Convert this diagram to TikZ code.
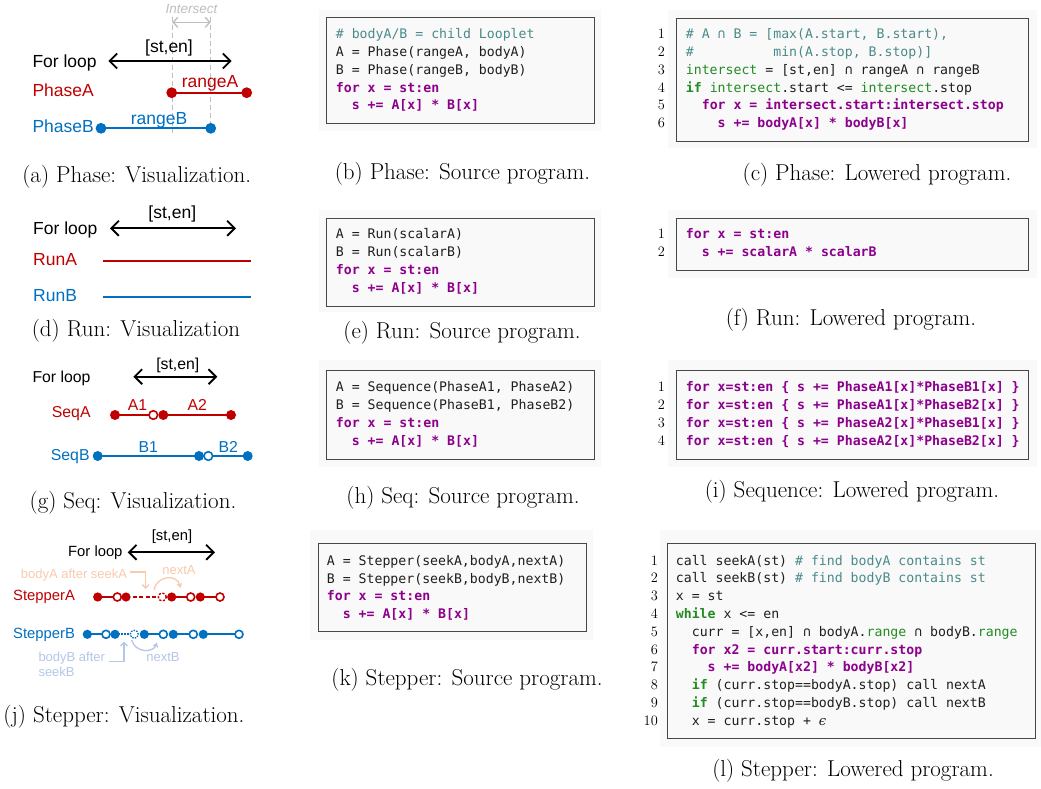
\documentclass[tikz,border=0pt]{standalone}
\usepackage{fontspec}
\usepackage{tikz}
\usetikzlibrary{arrows.meta}
\newfontfamily\sansf{Liberation Sans}
\newfontfamily\monof{DejaVu Sans Mono}
\newfontfamily\epsfont{DejaVu Serif}
\definecolor{vred}{RGB}{192,0,0}
\definecolor{vblue}{RGB}{0,112,192}
\definecolor{peach}{RGB}{248,203,173}
\definecolor{paleblue}{RGB}{180,199,231}
\definecolor{isgray}{RGB}{191,191,191}
\definecolor{cmtcol}{RGB}{74,138,138}
\definecolor{kwgreen}{RGB}{34,139,34}
\definecolor{loopcol}{RGB}{140,0,140}
\definecolor{codefg}{RGB}{30,30,30}
\definecolor{codebg}{RGB}{249,249,249}
\definecolor{boxline}{RGB}{70,70,70}
\newcommand{\cmnt}[1]{\textcolor{cmtcol}{#1}}
\newcommand{\kwd}[1]{\textcolor{kwgreen}{\bfseries #1}}
\newcommand{\grn}[1]{\textcolor{kwgreen}{#1}}
\newcommand{\lp}[1]{\textcolor{loopcol}{\bfseries #1}}

\tikzset{
  lbl/.style={font=\sansf\fontsize{17.5}{20}\selectfont, inner sep=0pt},
  lblsm/.style={font=\sansf\fontsize{15.8}{18}\selectfont, inner sep=0pt},
  lblxs/.style={font=\sansf\fontsize{14.8}{17}\selectfont, inner sep=0pt},
  annot/.style={font=\sansf\fontsize{13}{15}\selectfont, inner sep=0pt},
  capt/.style={font=\fontsize{23}{26}\selectfont, anchor=base, inner sep=0pt},
  code/.style={font=\monof\fontsize{13.2}{16}\selectfont, anchor=base west, inner sep=0pt, text=codefg},
  lnum/.style={font=\fontsize{14.4}{16}\selectfont, anchor=base east, inner sep=0pt},
  codebox/.style={draw=boxline, line width=1pt, fill=codebg},
  panelbg/.style={fill=codebg},
  looparrow/.style={line width=1.9pt, {Straight Barb[length=7.5pt,width=15pt]}-{Straight Barb[length=7.5pt,width=15pt]}},
  seg/.style={line width=2.3pt},
  sseg/.style={line width=1.7pt},
  opendot/.style={fill=white, line width=1.6pt},
  annarrow/.style={line width=1.3pt}
}

\begin{document}
\begin{tikzpicture}[x=1pt,y=-1pt]
  \fill[white] (0,0) rectangle (1041,788);
  \useasboundingbox (0,0) rectangle (1041,788);

  % (a) Phase visualization
  \draw[isgray, line width=1.2pt, dash pattern=on 5pt off 3pt] (172.3,17) -- (172.3,133);
  \draw[isgray, line width=1.2pt, dash pattern=on 5pt off 3pt] (210.7,17) -- (210.7,133);
  \node[annot, font=\sansf\itshape\fontsize{13.5}{15}\selectfont, text=isgray, anchor=base] (isect) at (191.5,13.3) {Intersect};
  \coordinate (isL) at (172.3,22.3);
  \coordinate (isR) at (210.7,22.3);
  \draw[isgray, line width=1.4pt, {Straight Barb[length=4.5pt,width=10pt]}-{Straight Barb[length=4.5pt,width=10pt]}] (isL) -- (isR);
  \node[lbl, anchor=base] (stenA) at (169,52.5) {[st,en]};
  \node[lbl, anchor=base west] (forA) at (32.3,67) {For loop};
  \coordinate (loopAL) at (108.3,61);
  \coordinate (loopAR) at (231.7,61);
  \draw[looparrow] (loopAL) -- (loopAR);
  \node[lbl, anchor=base west, text=vred] (phA) at (32.3,96.3) {PhaseA};
  \node[lbl, anchor=base, text=vred] (rgA) at (210,87.5) {rangeA};
  \coordinate (rAs) at (171.7,92.7);
  \coordinate (rAe) at (246.7,92.7);
  \draw[vred, seg] (rAs) -- (rAe);
  \fill[vred] (rAs) circle (5.4pt);
  \fill[vred] (rAe) circle (5.4pt);
  \node[lbl, anchor=base west, text=vblue] (phB) at (32.3,132.3) {PhaseB};
  \node[lbl, anchor=base, text=vblue] (rgB) at (159,124) {rangeB};
  \coordinate (rBs) at (101,128.3);
  \coordinate (rBe) at (210.7,128.3);
  \draw[vblue, seg] (rBs) -- (rBe);
  \fill[vblue] (rBs) circle (5.4pt);
  \fill[vblue] (rBe) circle (5.4pt);
  \node[capt] (capa) at (136.7,182.7) {(a) Phase: Visualization.};

  % (d) Run visualization
  \node[lbl, anchor=base] (stenD) at (172.3,218.5) {[st,en]};
  \node[lbl, anchor=base west] (forD) at (33,234.3) {For loop};
  \coordinate (loopDL) at (110,228.3);
  \coordinate (loopDR) at (236,228.3);
  \draw[looparrow] (loopDL) -- (loopDR);
  \node[lbl, anchor=base west, text=vred] (runA) at (33,265) {RunA};
  \node[lbl, anchor=base west, text=vblue] (runB) at (33,301) {RunB};
  \coordinate (runAs) at (103.3,261);
  \coordinate (runAe) at (250.7,261);
  \coordinate (runBs) at (103.3,297.3);
  \coordinate (runBe) at (250.7,297.3);
  \draw[vred, line width=2.3pt] (runAs) -- (runAe);
  \draw[vblue, line width=2.3pt] (runBs) -- (runBe);
  \node[capt] (capd) at (136,336.7) {(d) Run: Visualization};

  % (g) Seq visualization
  \node[lblsm, anchor=base] (stenG) at (177.8,369) {[st,en]};
  \node[lblsm, anchor=base west] (forG) at (32.3,382.3) {For loop};
  \coordinate (loopGL) at (133.3,376.7);
  \coordinate (loopGR) at (217.3,376.7);
  \draw[looparrow] (loopGL) -- (loopGR);
  \node[lblsm, anchor=base west, text=vred] (seqA) at (51.7,417.7) {SeqA};
  \node[lblsm, anchor=base, text=vred] (a1) at (137.5,410) {A1};
  \node[lblsm, anchor=base, text=vred] (a2) at (197.3,410) {A2};
  \draw[vred, line width=2pt] (115,415) -- (153.3,415);
  \draw[vred, line width=2pt] (163.3,415) -- (231,415);
  \fill[vred] (115,415) circle (5pt);
  \draw[vred, opendot] (153.3,415) circle (4.3pt);
  \fill[vred] (163.3,415) circle (5pt);
  \fill[vred] (231,415) circle (5pt);
  \node[lblsm, anchor=base west, text=vblue] (seqB) at (50.7,460) {SeqB};
  \node[lblsm, anchor=base, text=vblue] (b1) at (148.3,452.7) {B1};
  \node[lblsm, anchor=base, text=vblue] (b2) at (228.3,452.7) {B2};
  \draw[vblue, line width=2pt] (97.7,456) -- (199,456);
  \draw[vblue, line width=2pt] (208.3,456) -- (247.7,456);
  \fill[vblue] (97.7,456) circle (5pt);
  \fill[vblue] (199,456) circle (5pt);
  \draw[vblue, opendot] (208.3,456) circle (4.3pt);
  \fill[vblue] (247.7,456) circle (5pt);
  \node[capt] (capg) at (133,508) {(g) Seq: Visualization.};

  % (j) Stepper visualization
  \node[lblxs, anchor=base] (stenJ) at (172,540) {[st,en]};
  \node[lblxs, anchor=base west] (forJ) at (68,556) {For loop};
  \coordinate (loopJL) at (127.7,552.3);
  \coordinate (loopJR) at (215,552.3);
  \draw[looparrow] (loopJL) -- (loopJR);
  \node[lblxs, anchor=base west, text=vred] (stA) at (13,600.7) {StepperA};
  \node[lblxs, anchor=base west, text=vblue] (stB) at (13,638.3) {StepperB};
  % stepper A pieces
  \draw[vred, sseg, dash pattern=on 4pt off 2.5pt] (126,597) -- (158,597);
  \foreach \s/\e in {97.7/117.3, 171.7/190.7, 200.3/220} {
    \draw[vred, sseg] (\s,597) -- (\e,597);
    \fill[vred] (\s,597) circle (4.6pt);
    \draw[vred, opendot] (\e,597) circle (4pt);
  }
  \fill[vred] (126,597) circle (4.6pt);
  \draw[vred, line width=1.4pt, fill=white, dash pattern=on 2.2pt off 1.6pt] (162.3,597) circle (4pt);
  % stepper B pieces
  \draw[vblue, sseg, dash pattern=on 1.5pt off 1.5pt] (115,634.3) -- (130,634.3);
  \foreach \s/\e in {87.3/106, 144.3/163.3, 173.3/193.3, 203.3/239} {
    \draw[vblue, sseg] (\s,634.3) -- (\e,634.3);
    \fill[vblue] (\s,634.3) circle (4.6pt);
    \draw[vblue, opendot] (\e,634.3) circle (4pt);
  }
  \fill[vblue] (115,634.3) circle (4.6pt);
  \draw[vblue, line width=1.3pt, fill=white, dash pattern=on 1.5pt off 1.2pt] (134.3,634.3) circle (4pt);
  % annotations
  \node[annot, anchor=base west, text=peach] (skA) at (20.7,578.3) {bodyA after seekA};
  \node[annot, anchor=base, text=peach] (nxA) at (179,574.3) {nextA};
  \coordinate (skAtip) at (145.7,589);
  \draw[peach, annarrow, -{Straight Barb[length=3.5pt,width=7pt]}] ([xshift=3pt,yshift=3pt]skA.east) -| (skAtip);
  \draw[peach, annarrow, -{Stealth[length=5pt,width=6pt]}] (154,590) .. controls (157,575) and (177,574) .. (180.5,588);
  \node[annot, anchor=base west, text=paleblue] (skB) at (38.3,661.7) {bodyB after};
  \node[annot, anchor=base west, text=paleblue] (skB2) at (38.3,676.7) {seekB};
  \node[annot, anchor=base, text=paleblue] (nxB) at (163,661) {nextB};
  \coordinate (skBtip) at (124,641.5);
  \draw[paleblue, annarrow, -{Straight Barb[length=3.5pt,width=7pt]}] ([xshift=4pt]skB.base east) -| (skBtip);
  \draw[paleblue, annarrow, -{Stealth[length=5pt,width=6pt]}] (131.7,640) .. controls (135,653) and (153,653) .. (157,642.5);
  \node[capt] (capj) at (124,722.7) {(j) Stepper: Visualization.};

  % (b) Phase source
  \fill[panelbg] (319,10) rectangle (601,131);
  \draw[codebox] (326.7,17.3) rectangle (594,123.3);
  \node[code] (pb1) at (335.7,38.5) {\cmnt{\# bodyA/B = child Looplet}};
  \node[code] (pb2) at (335.7,56.35) {A = Phase(rangeA, bodyA)};
  \node[code] (pb3) at (335.7,74.2) {B = Phase(rangeB, bodyB)};
  \node[code] (pb4) at (335.7,92.05) {\lp{for x = st:en}};
  \node[code] (pb5) at (351.6,109.9) {\lp{s += A[x] * B[x]}};
  \node[capt] (capb) at (462.5,179.3) {(b) Phase: Source program.};

  % (c) Phase lowered
  \fill[panelbg] (668,10) rectangle (1037,148);
  \draw[codebox] (676.7,18.3) rectangle (1028.3,141.7);
  \foreach \n in {1,...,6} \node[lnum] (cn\n) at (665,{38.5+17.85*(\n-1)}) {\n};
  \node[code] (pc1) at (685.7,38.5) {\cmnt{\# A ∩ B = [max(A.start, B.start),}};
  \node[code] (pc2) at (685.7,56.35) {\cmnt{\#\ \ \ \ \ \ \ \ \ \ min(A.stop, B.stop)]}};
  \node[code] (pc3) at (685.7,74.2) {\grn{intersect} = [st,en] ∩ rangeA ∩ rangeB};
  \node[code] (pc4) at (685.7,92.05) {\kwd{if} \grn{intersect}.start <= \grn{intersect}.stop};
  \node[code] (pc5) at (701.6,109.9) {\lp{for x = intersect.start:intersect.stop}};
  \node[code] (pc6) at (717.5,127.75) {\lp{s += bodyA[x] * bodyB[x]}};
  \node[capt] (capc) at (877,180.7) {(c) Phase: Lowered program.};

  % (e) Run source
  \fill[panelbg] (319,210) rectangle (601,312);
  \draw[codebox] (326.7,218.3) rectangle (594,306);
  \node[code] (pe1) at (335.7,238.5) {A = Run(scalarA)};
  \node[code] (pe2) at (335.7,256.35) {B = Run(scalarB)};
  \node[code] (pe3) at (335.7,274.2) {\lp{for x = st:en}};
  \node[code] (pe4) at (351.6,292.05) {\lp{s += A[x] * B[x]}};
  \node[capt] (cape) at (462,338.3) {(e) Run: Source program.};

  % (f) Run lowered
  \fill[panelbg] (668,210) rectangle (1037,278);
  \draw[codebox] (676.7,218.3) rectangle (1028.3,270);
  \foreach \n in {1,2} \node[lnum] (fn\n) at (665,{238.5+17.85*(\n-1)}) {\n};
  \node[code] (pf1) at (685.7,238.5) {\lp{for x = st:en}};
  \node[code] (pf2) at (701.6,256.35) {\lp{s += scalarA * scalarB}};
  \node[capt] (capf) at (851,325.7) {(f) Run: Lowered program.};

  % (h) Seq source
  \fill[panelbg] (319,360) rectangle (601,467);
  \draw[codebox] (326.7,370.7) rectangle (594,459);
  \node[code] (ph1) at (335.7,391.5) {A = Sequence(PhaseA1, PhaseA2)};
  \node[code] (ph2) at (335.7,409.35) {B = Sequence(PhaseB1, PhaseB2)};
  \node[code] (ph3) at (335.7,427.2) {\lp{for x = st:en}};
  \node[code] (ph4) at (351.6,445.05) {\lp{s += A[x] * B[x]}};
  \node[capt] (caph) at (463,503.3) {(h) Seq: Source program.};

  % (i) Sequence lowered
  \fill[panelbg] (668,360) rectangle (1037,467);
  \draw[codebox] (676.7,370.7) rectangle (1028.3,459);
  \foreach \n in {1,...,4} \node[lnum] (in\n) at (665,{391.5+17.85*(\n-1)}) {\n};
  \node[code] (pi1) at (685.7,391.5) {\lp{for x=st:en \{ s += PhaseA1[x]*PhaseB1[x] \}}};
  \node[code] (pi2) at (685.7,409.35) {\lp{for x=st:en \{ s += PhaseA1[x]*PhaseB2[x] \}}};
  \node[code] (pi3) at (685.7,427.2) {\lp{for x=st:en \{ s += PhaseA2[x]*PhaseB1[x] \}}};
  \node[code] (pi4) at (685.7,445.05) {\lp{for x=st:en \{ s += PhaseA2[x]*PhaseB2[x] \}}};
  \node[capt] (capi) at (852,497.7) {(i) Sequence: Lowered program.};

  % (k) Stepper source
  \fill[panelbg] (310,530) rectangle (593,640);
  \draw[codebox] (318.3,543.3) rectangle (586,631);
  \node[code] (pk1) at (326.7,565.2) {A = Stepper(seekA,bodyA,nextA)};
  \node[code] (pk2) at (326.7,583.05) {B = Stepper(seekB,bodyB,nextB)};
  \node[code] (pk3) at (326.7,600.9) {\lp{for x = st:en}};
  \node[code] (pk4) at (342.6,618.75) {\lp{s += A[x] * B[x]}};
  \node[capt] (capk) at (467,685) {(k) Stepper: Source program.};

  % (l) Stepper lowered
  \fill[panelbg] (660,530) rectangle (1041,747);
  \draw[codebox] (667.3,543.3) rectangle (1035,738.3);
  \foreach \n in {1,...,10} \node[lnum] (ln\n) at (658,{565.2+17.78*(\n-1)}) {\n};
  \node[code] (pl1) at (675.7,565.2) {call seekA(st) \cmnt{\# find bodyA contains st}};
  \node[code] (pl2) at (675.7,582.98) {call seekB(st) \cmnt{\# find bodyB contains st}};
  \node[code] (pl3) at (675.7,600.76) {x = st};
  \node[code] (pl4) at (675.7,618.54) {\kwd{while} x <= en};
  \node[code] (pl5) at (691.6,636.32) {curr = [x,en] ∩ bodyA.\grn{range} ∩ bodyB.\grn{range}};
  \node[code] (pl6) at (691.6,654.1) {\lp{for x2 = curr.start:curr.stop}};
  \node[code] (pl7) at (707.5,671.88) {\lp{s += bodyA[x2] * bodyB[x2]}};
  \node[code] (pl8) at (691.6,689.66) {\kwd{if} (curr.stop==bodyA.stop) call nextA};
  \node[code] (pl9) at (691.6,707.44) {\kwd{if} (curr.stop==bodyB.stop) call nextB};
  \node[code] (pl10) at (691.6,725.22) {x = curr.stop + {\epsfont\itshape ϵ}};
  \node[capt] (capl) at (853,776) {(l) Stepper: Lowered program.};
\end{tikzpicture}
\end{document}
